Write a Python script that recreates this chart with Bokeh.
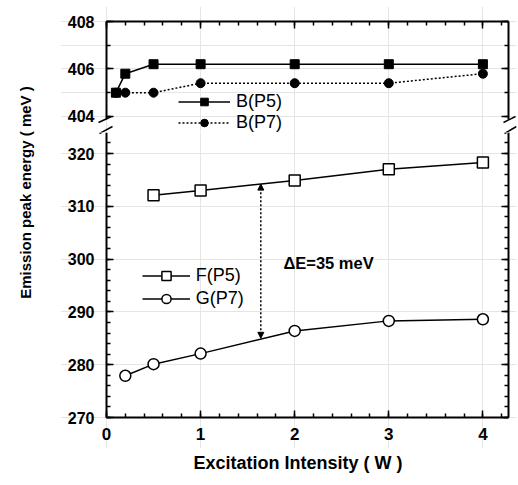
import math
from bokeh.plotting import figure
from bokeh.models import (Range1d, LinearAxis, SingleIntervalTicker, Legend,
                          LegendItem, Label, Arrow, NormalHead, CustomLabelingPolicy, Title)
from bokeh.layouts import row, column
from bokeh.embed import file_html
from bokeh.resources import INLINE

FONT = "Liberation Sans"

# ---------------- data ----------------
b_x = [0.1, 0.2, 0.5, 1, 2, 3, 4]
b_p5 = [405.0, 405.8, 406.2, 406.2, 406.2, 406.2, 406.2]
b_p7 = [405.0, 405.0, 405.0, 405.4, 405.4, 405.4, 405.8]

f_x = [0.5, 1, 2, 3, 4]
f_p5 = [312.1, 313.0, 314.9, 317.0, 318.3]

g_x = [0.2, 0.5, 1, 2, 3, 4]
g_p7 = [277.9, 280.1, 282.1, 286.4, 288.3, 288.6]

delta_x = 1.64
delta_y = [285.0, 314.2]
delta_text = "\u0394E=35 meV"
delta_text_pos = (1.88, 299.3)

x_label = "Excitation Intensity ( W )"
y_label = "Emission peak energy ( meV )"

# axis extents (data)
X_AXIS = (0.0, 4.27)
TOP_AXIS = (403.87, 408.0)
BOT_AXIS = (270.0, 324.73)

# ---------------- geometry (page pixels) ----------------
PX_X = 94.1          # px per W
PX_TOP = 23.73       # px per meV, upper panel
PX_BOT = 5.28        # px per meV, lower panel
LAB_W = 44
W = 474
ML = 16              # frames reach left of the axis so tick labels stay inside
MR = 2
X0_PAGE = 106        # page x of W = 0
Y408_PAGE = 21       # page y of the top of the upper panel
Y270_PAGE = 417      # page y of the bottom of the lower panel
FRAME_L = LAB_W + ML
FRAME_R = LAB_W + W - MR

TOP_FRAME_T = 6
SPLIT = 132
BOT_FRAME_B = 448
PAGE_H = 482
TOP_H = SPLIT
BOT_H = PAGE_H - SPLIT
TOTAL_H = TOP_H + BOT_H


def dx(px):
    return (px - X0_PAGE) / PX_X


def top_y(py):
    return TOP_AXIS[1] - (py - Y408_PAGE) / PX_TOP


def bot_y(py):
    return BOT_AXIS[0] + (Y270_PAGE - py) / PX_BOT


X_RANGE = (dx(FRAME_L), dx(FRAME_R))
TOP_Y = (top_y(SPLIT), top_y(TOP_FRAME_T))
BOT_Y = (bot_y(BOT_FRAME_B), bot_y(SPLIT))

# axis-break slashes, page pixels (x0, y0, x1, y1)
SLASHES = [(98, 122, 111, 116), (99, 133, 112, 126),
           (503, 122, 515, 116), (504, 133, 516, 126)]

NO_LABELS = CustomLabelingPolicy(code="for (const i of indices) { indices.unset(i) }; return indices")


def style_axis(ax, labels=True, size="16px", standoff=12):
    ax.axis_line_width = 2
    ax.axis_line_color = "black"
    ax.major_tick_in = 7
    ax.major_tick_out = 0
    ax.minor_tick_in = 4
    ax.minor_tick_out = 0
    ax.major_tick_line_width = 1.5
    ax.minor_tick_line_width = 1.5
    ax.major_tick_line_color = "black"
    ax.minor_tick_line_color = "black"
    if labels:
        ax.major_label_text_font = FONT
        ax.major_label_text_font_style = "bold"
        ax.major_label_text_font_size = size
        ax.major_label_text_color = "black"
        ax.major_label_standoff = standoff
    else:
        ax.major_label_text_font_size = "1px"
        ax.major_label_standoff = 0
        ax.major_label_policy = NO_LABELS


def style_legend(leg, gw, gh):
    leg.padding = 0
    leg.spacing = 0
    leg.margin = 0
    leg.glyph_width = gw
    leg.glyph_height = gh
    leg.label_height = gh
    leg.label_standoff = 6
    leg.border_line_color = None
    leg.background_fill_alpha = 0
    leg.label_text_font = FONT
    leg.label_text_font_size = "18px"
    leg.label_text_color = "black"


def add_slashes(p, yconv):
    for (x0, y0, x1, y1) in SLASHES:
        p.add_layout(Arrow(end=None, x_start=dx(x0), y_start=yconv(y0),
                           x_end=dx(x1), y_end=yconv(y1),
                           line_color="black", line_width=1.5))


xr = Range1d(*X_RANGE)

# ---------------- top panel ----------------
top = figure(width=W, height=TOP_H, x_range=xr, y_range=Range1d(*TOP_Y),
             x_axis_location=None, y_axis_location=None,
             toolbar_location=None, output_backend="svg",
             min_border_left=ML, min_border_right=MR,
             min_border_top=TOP_FRAME_T, min_border_bottom=0)
top.outline_line_color = None
top.background_fill_color = None
top.border_fill_color = None

ax = LinearAxis(ticker=SingleIntervalTicker(interval=1, num_minor_ticks=5),
                bounds=X_AXIS, fixed_location=TOP_AXIS[1])
style_axis(ax, labels=False)
top.add_layout(ax, "above")
ax = LinearAxis(ticker=SingleIntervalTicker(interval=2, num_minor_ticks=2),
                bounds=TOP_AXIS, fixed_location=X_AXIS[0])
style_axis(ax, labels=True, size="16px")
top.add_layout(ax, "left")
ax = LinearAxis(ticker=SingleIntervalTicker(interval=2, num_minor_ticks=2),
                bounds=TOP_AXIS, fixed_location=X_AXIS[1])
style_axis(ax, labels=False)
top.add_layout(ax, "right")

l5 = top.line(b_x, b_p5, line_color="black", line_width=1.5)
s5 = top.scatter(b_x, b_p5, marker="square", size=9,
                 fill_color="black", line_color="black")
l7 = top.line(b_x, b_p7, line_color="black", line_width=1.5, line_dash="2 2")
s7 = top.scatter(b_x, b_p7, marker="circle", size=9,
                 fill_color="black", line_color="black")

leg = Legend(items=[LegendItem(label="B(P5)", renderers=[l5, s5]),
                    LegendItem(label="B(P7)", renderers=[l7, s7])],
             location=(178 - FRAME_L, SPLIT - 132.5))
style_legend(leg, 52, 19)
top.add_layout(leg)
add_slashes(top, top_y)

# ---------------- bottom panel ----------------
bot = figure(width=W, height=BOT_H, x_range=xr, y_range=Range1d(*BOT_Y),
             x_axis_location=None, y_axis_location=None,
             toolbar_location=None, output_backend="svg",
             min_border_left=ML, min_border_right=MR,
             min_border_top=0, min_border_bottom=PAGE_H - BOT_FRAME_B)
bot.outline_line_color = None
bot.background_fill_color = None
bot.border_fill_color = None

ax = LinearAxis(ticker=SingleIntervalTicker(interval=1, num_minor_ticks=5),
                bounds=X_AXIS, fixed_location=BOT_AXIS[0])
style_axis(ax, labels=True, size="17px", standoff=10)
bot.add_layout(ax, "below")
xt = Title(text=x_label, align="left", offset=193 - FRAME_L,
           text_font=FONT, text_font_style="bold", text_font_size="18px",
           text_color="black", standoff=5)
bot.add_layout(xt, "below")
ax = LinearAxis(ticker=SingleIntervalTicker(interval=10, num_minor_ticks=5),
                bounds=BOT_AXIS, fixed_location=X_AXIS[0])
style_axis(ax, labels=True, size="16px")
bot.add_layout(ax, "left")
ax = LinearAxis(ticker=SingleIntervalTicker(interval=10, num_minor_ticks=5),
                bounds=BOT_AXIS, fixed_location=X_AXIS[1])
style_axis(ax, labels=False)
bot.add_layout(ax, "right")

lf = bot.line(f_x, f_p5, line_color="black", line_width=1.5)
sf = bot.scatter(f_x, f_p5, marker="square", size=11,
                 fill_color="white", line_color="black", line_width=1.5)
lg = bot.line(g_x, g_p7, line_color="black", line_width=1.5)
sg = bot.scatter(g_x, g_p7, marker="circle", size=11,
                 fill_color="white", line_color="black", line_width=1.5)

leg = Legend(items=[LegendItem(label="F(P5)", renderers=[lf, sf]),
                    LegendItem(label="G(P7)", renderers=[lg, sg])],
             location=(141.7 - FRAME_L, BOT_FRAME_B - 309.5))
style_legend(leg, 48, 23)
bot.add_layout(leg)

bot.add_layout(Arrow(x_start=delta_x, y_start=delta_y[0],
                     x_end=delta_x, y_end=delta_y[1],
                     line_color="black", line_width=1.5, line_dash="2 2",
                     start=NormalHead(size=6, fill_color="black", line_color="black"),
                     end=NormalHead(size=6, fill_color="black", line_color="black")))
bot.add_layout(Label(x=delta_text_pos[0], y=delta_text_pos[1], text=delta_text,
                     text_align="left", text_baseline="middle",
                     text_font=FONT, text_font_style="bold",
                     text_font_size="16.5px", text_color="black"))
add_slashes(bot, bot_y)

# ---------------- y-axis title ----------------
lab = figure(width=LAB_W, height=TOTAL_H, x_range=Range1d(0, 1),
             y_range=Range1d(0, 1), x_axis_location=None, y_axis_location=None,
             toolbar_location=None, output_backend="svg", min_border=0)
lab.outline_line_color = None
lab.background_fill_color = None
lab.border_fill_color = None
lab.grid.visible = False
lab.add_layout(Label(x=25, y=TOTAL_H - 192, x_units="screen", y_units="screen",
                     text=y_label, angle=math.pi / 2,
                     text_align="center", text_baseline="middle",
                     text_font=FONT, text_font_style="bold",
                     text_font_size="15px", text_color="black"))

layout = row(lab, column(top, bot))

open("out.html", "w").write(file_html(layout, INLINE))
